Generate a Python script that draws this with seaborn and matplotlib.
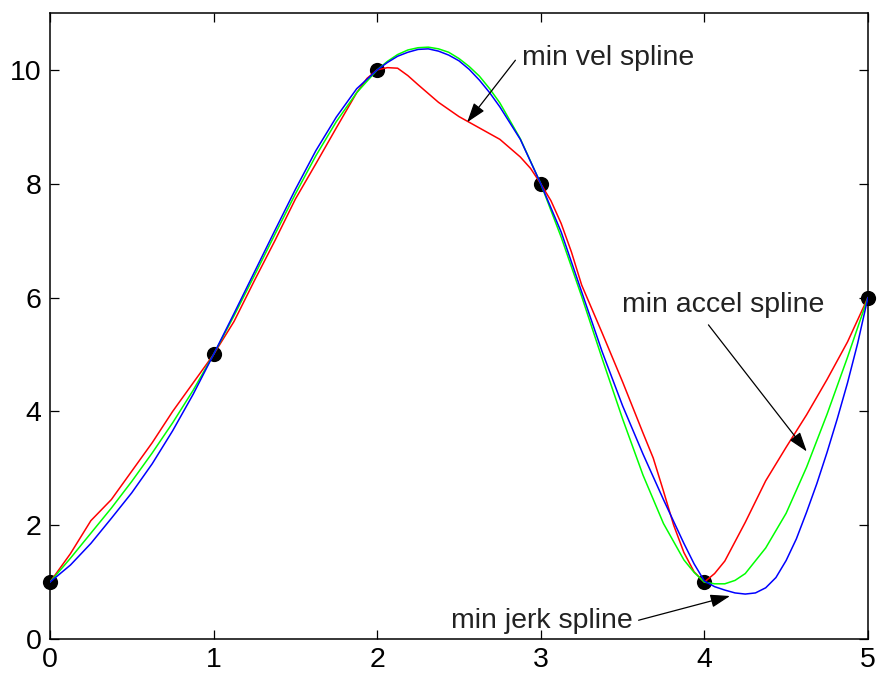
import matplotlib
matplotlib.use("Agg")
from matplotlib import pyplot as plt
import seaborn as sns

# knots
knot_x = [0, 1, 2, 3, 4, 5]
knot_y = [1, 5, 10, 8, 1, 6]

# curves (denser where they bend)
vel_x = [0, 0.125, 0.25, 0.375, 0.5, 0.625, 0.75, 0.875, 1,
         1.125, 1.25, 1.375, 1.5, 1.625, 1.75, 1.875, 1.9375, 2,
         2.0625, 2.125, 2.1875, 2.25, 2.375, 2.5, 2.625, 2.75, 2.875, 2.9375, 3,
         3.0625, 3.125, 3.1875, 3.25, 3.375, 3.5, 3.625, 3.6875, 3.75, 3.8125, 3.875, 3.9375, 4,
         4.0625, 4.125, 4.25, 4.375, 4.5, 4.625, 4.75, 4.875, 5]
vel_y = [1.0, 1.5, 2.08, 2.45, 2.95, 3.45, 4.0, 4.5, 5.0,
         5.58, 6.3, 7.0, 7.73, 8.35, 8.98, 9.6, 9.85, 10.0,
         10.04, 10.03, 9.9, 9.74, 9.43, 9.18, 8.98, 8.78, 8.47, 8.27, 8.0,
         7.7, 7.3, 6.8, 6.22, 5.38, 4.52, 3.62, 3.18, 2.6, 2.0, 1.52, 1.18, 1.0,
         1.15, 1.37, 2.05, 2.78, 3.37, 3.94, 4.56, 5.22, 6.0]

accel_x = [0, 0.125, 0.25, 0.375, 0.5, 0.625, 0.75, 0.875, 1,
           1.125, 1.25, 1.375, 1.5, 1.625, 1.75, 1.875, 2,
           2.0625, 2.125, 2.1875, 2.25, 2.3125, 2.375, 2.4375, 2.5, 2.5625, 2.625, 2.6875, 2.75, 2.875, 3,
           3.125, 3.25, 3.375, 3.5, 3.625, 3.75, 3.875, 3.9375, 4,
           4.0625, 4.125, 4.1875, 4.25, 4.375, 4.5, 4.625, 4.75, 4.875, 5]
accel_y = [1.0, 1.42, 1.86, 2.3, 2.77, 3.27, 3.8, 4.37, 5.0,
           5.68, 6.39, 7.11, 7.82, 8.49, 9.09, 9.6, 10.0,
           10.15, 10.27, 10.35, 10.39, 10.4, 10.37, 10.31, 10.2, 10.06, 9.89, 9.67, 9.42, 8.79, 8.0,
           7.06, 6.02, 4.93, 3.87, 2.88, 2.03, 1.39, 1.17, 1.0,
           0.97, 0.97, 1.03, 1.15, 1.6, 2.21, 3.02, 3.95, 4.95, 6.0]

jerk_x = [0, 0.125, 0.25, 0.375, 0.5, 0.625, 0.75, 0.875, 1,
          1.125, 1.25, 1.375, 1.5, 1.625, 1.75, 1.875, 2,
          2.0625, 2.125, 2.1875, 2.25, 2.3125, 2.375, 2.4375, 2.5, 2.5625, 2.625, 2.6875, 2.75, 2.875, 3,
          3.125, 3.25, 3.375, 3.5, 3.625, 3.75, 3.875, 3.9375, 4,
          4.0625, 4.125, 4.1875, 4.25, 4.3125, 4.375, 4.4375, 4.5, 4.5625, 4.625, 4.6875, 4.75,
          4.8125, 4.875, 4.9375, 5]
jerk_y = [1.0, 1.3, 1.68, 2.12, 2.57, 3.08, 3.66, 4.3, 5.0,
          5.72, 6.45, 7.18, 7.9, 8.58, 9.17, 9.67, 10.0,
          10.13, 10.24, 10.31, 10.36, 10.37, 10.33, 10.26, 10.16, 10.01, 9.82, 9.6, 9.35, 8.78, 8.0,
          7.15, 6.1, 5.05, 4.1, 3.25, 2.45, 1.68, 1.32, 1.02,
          0.92, 0.86, 0.81, 0.79, 0.81, 0.9, 1.08, 1.38, 1.76, 2.23, 2.73, 3.28,
          3.87, 4.5, 5.2, 6.0]

sns.set_style("ticks")
plt.rcParams["font.family"] = ["Liberation Sans", "DejaVu Sans"]

fig = plt.figure(figsize=(8.8, 6.77), dpi=100)
ax = fig.add_axes([0.0568, 0.0561, 0.9295, 0.9247])

sns.scatterplot(x=knot_x, y=knot_y, color="black", s=120, edgecolor="black",
                linewidth=0, ax=ax, clip_on=False, zorder=2)
sns.lineplot(x=vel_x, y=vel_y, color="#ff0000", lw=1.1, sort=False,
             estimator=None, ax=ax, zorder=3)
sns.lineplot(x=accel_x, y=accel_y, color="#00ff00", lw=1.1, sort=False,
             estimator=None, ax=ax, zorder=3)
sns.lineplot(x=jerk_x, y=jerk_y, color="#0000ff", lw=1.1, sort=False,
             estimator=None, ax=ax, zorder=3)

ax.set_xlim(0, 5)
ax.set_ylim(0, 11)
ax.set_xticks([0, 1, 2, 3, 4, 5])
ax.set_yticks([0, 2, 4, 6, 8, 10])
ax.tick_params(direction="in", length=6.5, width=0.9, labelsize=20.5,
               pad=6, top=True, right=True, colors="black")
for sp in ax.spines.values():
    sp.set_visible(True)
    sp.set_linewidth(1.1)
    sp.set_color("black")

arrow = dict(arrowstyle="-|>,head_length=0.6,head_width=0.2", color="black",
             lw=0.9, shrinkA=0, shrinkB=0, mutation_scale=20)
ax.text(2.888, 10.08, "min vel spline", fontsize=20.5, va="baseline", color="#222222")
ax.annotate("", xy=(2.55, 9.08), xytext=(2.845, 10.17), arrowprops=arrow)
ax.text(3.496, 5.75, "min accel spline", fontsize=20.5, va="baseline", color="#222222")
ax.annotate("", xy=(4.626, 3.295), xytext=(4.025, 5.52), arrowprops=arrow)
ax.text(2.452, 0.2, "min jerk spline", fontsize=20.5, va="baseline", color="#222222")
ax.annotate("", xy=(4.157, 0.756), xytext=(3.598, 0.33), arrowprops=arrow)

plt.savefig("out.png", dpi=100)
